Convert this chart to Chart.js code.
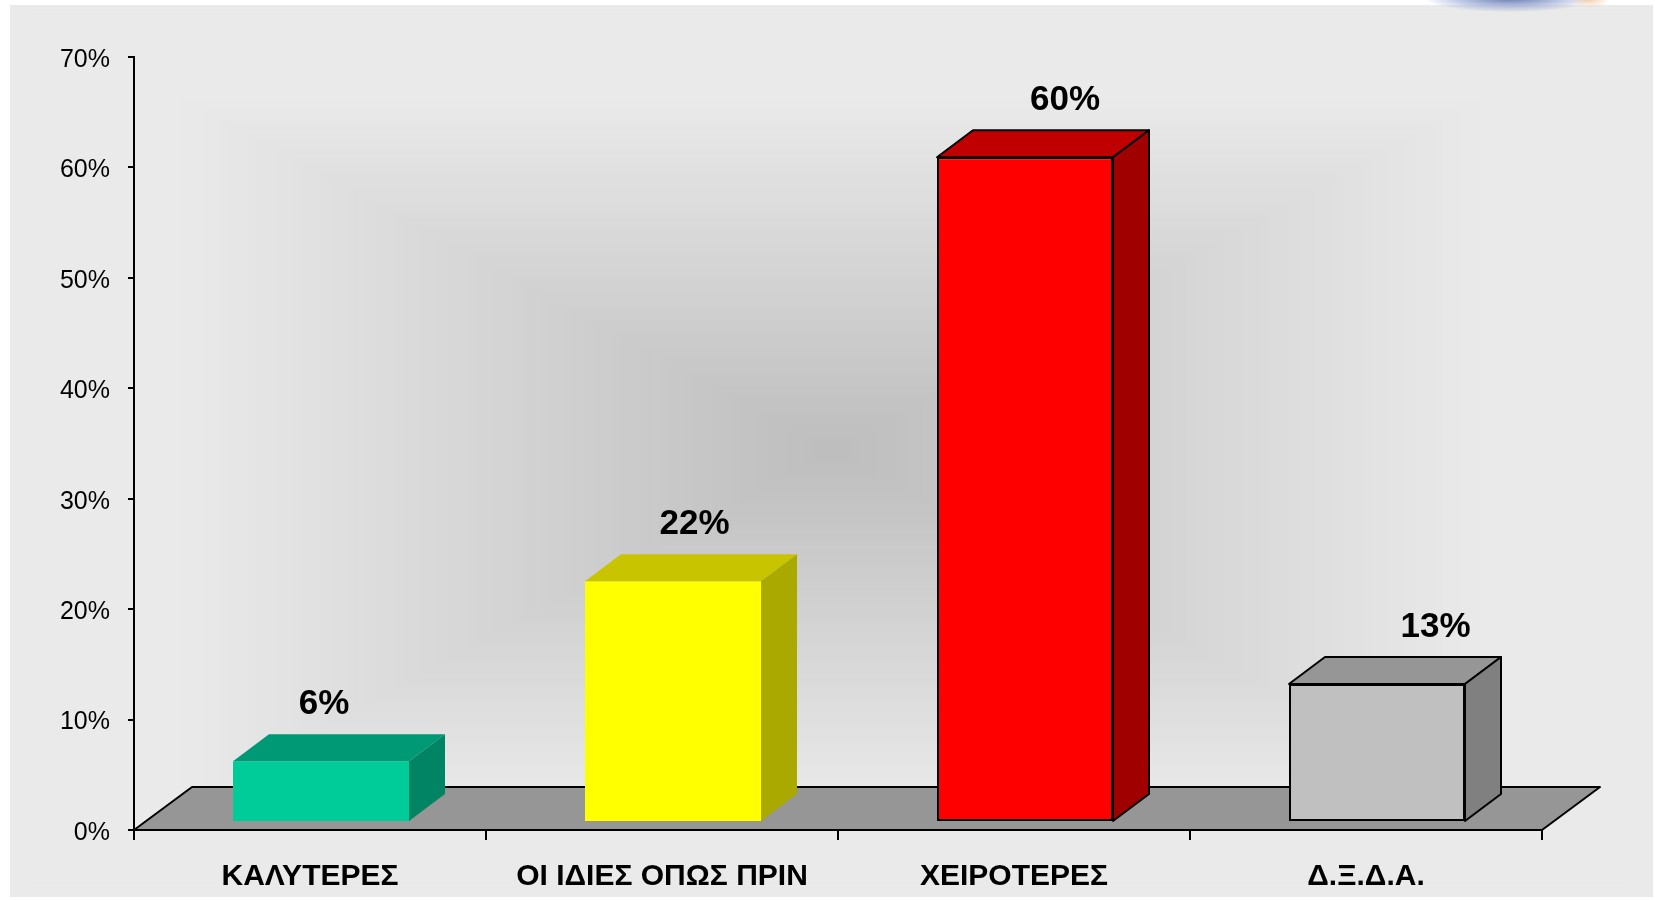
<!DOCTYPE html>
<html>
<head>
<meta charset="utf-8">
<script src="https://cdn.jsdelivr.net/npm/chart.js@4.4.1/dist/chart.umd.min.js"></script>
<style>
    html, body { margin: 0; padding: 0; background: #fff; }
    #wrap { position: relative; width: 1655px; height: 900px; overflow: hidden; }
    #chart { position: absolute; left: 0; top: 0; }
    #logo { position: absolute; left: 1425px; top: -16px; width: 170px; height: 28px; border-radius: 50%;
        background: radial-gradient(ellipse at center, rgba(85,105,165,0.9) 0%, rgba(140,160,210,0.55) 45%, rgba(255,255,255,0) 72%); }
    #logo2 { position: absolute; left: 1570px; top: -10px; width: 40px; height: 18px; border-radius: 50%;
        background: radial-gradient(ellipse at center, rgba(240,190,140,0.7) 0%, rgba(255,255,255,0) 70%); }
</style>
</head>
<body>
<div id="wrap">
    <canvas id="chart" width="1655" height="900"></canvas>
    <div id="logo"></div>
    <div id="logo2"></div>
</div>
<script>
// --- data ---
const categories = ['ΚΑΛΥΤΕΡΕΣ', 'ΟΙ ΙΔΙΕΣ ΟΠΩΣ ΠΡΙΝ', 'ΧΕΙΡΟΤΕΡΕΣ', 'Δ.Ξ.Δ.Α.'];
const values = [5.5, 21.8, 60.2, 12.5];
const yMin = 0;
const yMax = 70;
const yStep = 10;

// --- styles ---
const frontColors = ['#00CC99', '#FFFF00', '#FF0000', '#C0C0C0'];
const topColors = ['#009975', '#C8C400', '#C00000', '#969696'];
const sideColors = ['#008464', '#A9A900', '#A00000', '#808080'];
const borderWidths = [0, 0, 2, 2];

const FONT = "'Liberation Sans', Arial, sans-serif";
const SHIFT_X = 11, SHIFT_Y = 8;   // bars sit a bit behind the front plane
const DEPTH_X = 36, DEPTH_Y = 27;  // bar depth

function poly(ctx, pts, fill, stroke) {
    ctx.beginPath();
    ctx.moveTo(pts[0][0], pts[0][1]);
    for (let i = 1; i < pts.length; i++) ctx.lineTo(pts[i][0], pts[i][1]);
    ctx.closePath();
    ctx.fillStyle = fill;
    ctx.fill();
    if (stroke) {
        ctx.strokeStyle = '#000';
        ctx.lineWidth = stroke;
        ctx.lineJoin = 'round';
        ctx.stroke();
    }
}

const box3d = {
    id: 'box3d',
    beforeDraw(chart) {
        // panel with a rectangular "from centre" gradient
        const ctx = chart.ctx;
        const px = 10, py = 5, pw = 1643, ph = 892;
        const cx = px + pw / 2, cy = py + ph / 2;
        const N = 90;
        ctx.save();
        for (let i = N; i >= 1; i--) {
            const t = i / N;
            const c = Math.round(189 + 45 * Math.min(1, t / 0.8));
            ctx.fillStyle = `rgb(${c},${c},${c})`;
            const w = pw / 2 * t, h = ph / 2 * t;
            ctx.fillRect(cx - w, cy - h, 2 * w, 2 * h);
        }
        ctx.restore();
    },
    beforeDatasetsDraw(chart) {
        const { ctx, chartArea: { left, right, bottom } } = chart;
        const fx = SHIFT_X * 2 + DEPTH_X, fy = SHIFT_Y * 2 + DEPTH_Y;
        ctx.save();
        poly(ctx, [[left, bottom], [right, bottom], [right + fx, bottom - fy], [left + fx, bottom - fy]], '#969696', 2);
        ctx.restore();
        ctx.save();
        ctx.translate(SHIFT_X, -SHIFT_Y);
    },
    afterDatasetsDraw(chart) {
        const ctx = chart.ctx;
        ctx.restore();
        const meta = chart.getDatasetMeta(0);
        ctx.save();
        meta.data.forEach((bar, i) => {
            const { x, y, base, width } = bar.getProps(['x', 'y', 'base', 'width'], true);
            const L = x - width / 2 + SHIFT_X, R = x + width / 2 + SHIFT_X;
            const T = y - SHIFT_Y, B = base - SHIFT_Y;
            const bw = borderWidths[i];
            poly(ctx, [[L, T], [R, T], [R + DEPTH_X, T - DEPTH_Y], [L + DEPTH_X, T - DEPTH_Y]], topColors[i], bw);
            poly(ctx, [[R, T], [R + DEPTH_X, T - DEPTH_Y], [R + DEPTH_X, B - DEPTH_Y], [R, B]], sideColors[i], bw);

            // value label, drifting right a little with each category like the original
            ctx.fillStyle = '#000';
            ctx.font = `bold 35px ${FONT}`;
            ctx.textAlign = 'center';
            ctx.textBaseline = 'middle';
            ctx.fillText(Math.round(values[i]) + '%', x + 14 + 18.5 * i, T - DEPTH_Y - 30);
        });
        ctx.restore();
    }
};

new Chart(document.getElementById('chart'), {
    type: 'bar',
    data: {
        labels: categories,
        datasets: [{
            data: values,
            backgroundColor: frontColors,
            borderColor: '#000',
            borderWidth: borderWidths,
            borderSkipped: false,
            barPercentage: 1,
            categoryPercentage: 0.5
        }]
    },
    options: {
        responsive: false,
        animation: false,
        layout: { padding: { top: 57, right: 113, bottom: 0, left: 0 } },
        plugins: { legend: { display: false }, tooltip: { enabled: false } },
        scales: {
            y: {
                min: yMin,
                max: yMax,
                ticks: {
                    stepSize: yStep,
                    callback: v => v + '%',
                    color: '#000',
                    font: { family: FONT, size: 25 },
                    padding: 18,
                    labelOffset: 3
                },
                grid: { drawOnChartArea: false, drawTicks: true, tickLength: 6, color: '#000', lineWidth: 2 },
                border: { color: '#000', width: 2 },
                afterFit: s => { s.width = 134; }
            },
            x: {
                ticks: {
                    color: '#000',
                    font: { family: FONT, size: 30, weight: 'bold' },
                    padding: 19,
                    maxRotation: 0,
                    autoSkip: false
                },
                grid: { offset: true, drawOnChartArea: false, drawTicks: true, tickLength: 10, color: '#000', lineWidth: 2 },
                border: { color: '#000', width: 2 },
                afterFit: s => { s.height = 70; }
            }
        }
    },
    plugins: [box3d]
});
</script>
</body>
</html>
